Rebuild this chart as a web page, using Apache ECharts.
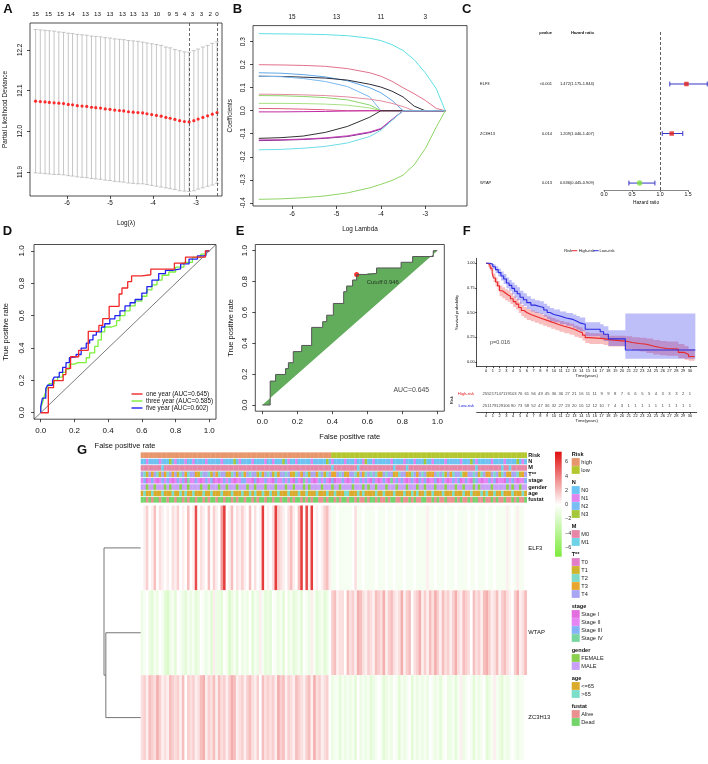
<!DOCTYPE html>
<html><head><meta charset="utf-8">
<script src="https://cdn.jsdelivr.net/npm/echarts@6.0.0/dist/echarts.min.js"></script>
<style>html,body{margin:0;padding:0;background:#fff}#c{width:708px;height:764px}</style>
</head><body><div id="c"></div><script>
const FONT = '"Liberation Sans", Arial, Helvetica, sans-serif';

// ---------------- Panel A : cross-validation curve ----------------
const lamA = [-6.73,-6.62,-6.51,-6.41,-6.30,-6.19,-6.08,-5.97,-5.87,-5.76,-5.65,-5.54,-5.43,-5.33,-5.22,-5.11,-5.00,-4.89,-4.78,-4.68,-4.57,-4.46,-4.35,-4.24,-4.14,-4.03,-3.92,-3.81,-3.70,-3.60,-3.49,-3.38,-3.27,-3.16,-3.05,-2.95,-2.84,-2.73,-2.62,-2.51];
const cvmA = [12.074,12.073,12.072,12.071,12.070,12.069,12.068,12.066,12.065,12.063,12.062,12.061,12.059,12.058,12.057,12.055,12.054,12.052,12.051,12.050,12.048,12.047,12.046,12.045,12.043,12.041,12.039,12.037,12.034,12.032,12.029,12.026,12.024,12.023,12.026,12.030,12.034,12.038,12.042,12.046];
const cvsdA = [0.176,0.176,0.176,0.176,0.176,0.175,0.175,0.175,0.175,0.175,0.175,0.175,0.175,0.175,0.175,0.175,0.175,0.175,0.175,0.175,0.175,0.175,0.175,0.174,0.174,0.174,0.174,0.174,0.173,0.173,0.172,0.172,0.171,0.171,0.172,0.172,0.173,0.173,0.174,0.174];
const lamMinA = -3.16, lam1seA = -2.51;
const topPosA = [-6.73,-6.43,-6.15,-5.90,-5.57,-5.29,-5.00,-4.71,-4.46,-4.19,-3.91,-3.62,-3.45,-3.27,-3.08,-2.87,-2.67,-2.51];
const topLabA = ['15','15','15','14','13','13','13','13','13','13','10','9','5','4','3','3','2','0'];

// ---------------- Panel B : coefficient paths ----------------
const lamB = [-6.75,-6.25,-5.75,-5.25,-4.75,-4.25,-4.0,-3.75,-3.5,-3.25,-3.0,-2.75,-2.55];
const coefB = [
 [0.335,0.334,0.333,0.331,0.326,0.315,0.305,0.287,0.262,0.222,0.165,0.095,0],
 [0.200,0.199,0.197,0.193,0.183,0.165,0.150,0.128,0.100,0.074,0.045,0.010,0],
 [0.165,0.163,0.157,0.147,0.130,0.100,0.078,0.045,0,0,0,0,0],
 [0.150,0.149,0.146,0.142,0.133,0.115,0.103,0.085,0.060,0.020,0,0,0],
 [0.150,0.148,0.140,0.127,0.105,0.060,0,0,0,0,0,0,0],
 [0.072,0.071,0.069,0.066,0.060,0.050,0.043,0.032,0.018,0,0,0,0],
 [0.066,0.065,0.062,0.057,0.047,0.025,0,0,0,0,0,0,0],
 [0.032,0.032,0.031,0.029,0.024,0.012,0,0,0,0,0,0,0],
 [0.010,0.009,0.007,0.004,0,0,0,0,0,0,0,0,0],
 [-0.005,-0.005,-0.004,-0.003,-0.001,0,0,0,0,0,0,0,0],
 [-0.120,-0.117,-0.110,-0.094,-0.068,-0.028,0,0,0,0,0,0,0],
 [-0.130,-0.128,-0.125,-0.120,-0.112,-0.095,-0.080,-0.040,0,0,0,0,0],
 [-0.127,-0.126,-0.123,-0.118,-0.109,-0.092,-0.077,-0.038,0,0,0,0,0],
 [-0.170,-0.168,-0.163,-0.155,-0.140,-0.112,-0.085,-0.042,0,0,0,0,0],
 [-0.385,-0.383,-0.378,-0.370,-0.357,-0.335,-0.320,-0.303,-0.280,-0.235,-0.165,-0.070,0]
];
const colB = ['#5FE0E5','#E0728A','#5FA8E8','#2B2B3A','#7BB8F0','#E38BA0','#8CD66A','#A8E080','#E05A80','#C02AA8','#333333','#7A2A8A','#C63FB5','#6EDDE6','#8FD466'];
const topPosB = [-6,-5,-4,-3];
const topLabB = ['15','13','11','3'];

// ---------------- Panel C : forest plot ----------------
const genesC = ['ELF3','ZC3H13','WTAP'];
const rowC = [3,2,1];
const pvalC = ['<0.001','0.014','0.013'];
const hrC = [1.472,1.209,0.636];
const hrLoC = [1.175,1.040,0.445];
const hrHiC = [1.844,1.407,0.909];

// ---------------- Panel D / E : ROC ----------------
const rocOne = [[0,0],[0.045,0],[0.045,0.155],[0.076,0.155],[0.076,0.198],[0.133,0.198],[0.133,0.236],[0.149,0.236],[0.149,0.274],[0.177,0.274],[0.177,0.346],[0.225,0.346],[0.225,0.386],[0.282,0.386],[0.282,0.503],[0.345,0.503],[0.345,0.54],[0.368,0.54],[0.368,0.582],[0.406,0.582],[0.406,0.658],[0.465,0.658],[0.465,0.734],[0.482,0.734],[0.482,0.771],[0.516,0.771],[0.516,0.81],[0.539,0.81],[0.539,0.846],[0.6,0.846],[0.6,0.853],[0.653,0.853],[0.653,0.888],[0.793,0.888],[0.793,0.925],[0.859,0.925],[0.859,0.962],[0.977,0.962],[0.977,1],[1,1]];
const rocThree = [[0,0],[0.01,0.03],[0.02,0.06],[0.03,0.1],[0.04,0.13],[0.05,0.16],[0.08,0.18],[0.1,0.2],[0.13,0.22],[0.15,0.25],[0.17,0.27],[0.2,0.3],[0.22,0.31],[0.27,0.31],[0.29,0.34],[0.32,0.37],[0.34,0.41],[0.36,0.45],[0.38,0.5],[0.42,0.53],[0.45,0.54],[0.47,0.57],[0.5,0.6],[0.53,0.63],[0.56,0.66],[0.6,0.69],[0.63,0.72],[0.66,0.76],[0.69,0.79],[0.72,0.82],[0.76,0.85],[0.8,0.87],[0.85,0.9],[0.9,0.93],[0.95,0.96],[0.98,0.98],[1,1]];
const rocFive = [[0,0],[0.01,0.04],[0.03,0.09],[0.04,0.15],[0.07,0.17],[0.08,0.2],[0.11,0.22],[0.13,0.25],[0.15,0.28],[0.17,0.31],[0.18,0.34],[0.21,0.345],[0.24,0.36],[0.27,0.4],[0.29,0.43],[0.31,0.45],[0.33,0.48],[0.36,0.5],[0.38,0.53],[0.41,0.55],[0.44,0.58],[0.47,0.6],[0.5,0.63],[0.53,0.66],[0.56,0.68],[0.6,0.7],[0.63,0.74],[0.66,0.78],[0.7,0.82],[0.74,0.86],[0.78,0.88],[0.83,0.89],[0.88,0.92],[0.93,0.95],[0.98,0.97],[1,1]];
const rocNames = ['one year (AUC=0.645)','three year (AUC=0.585)','five year (AUC=0.602)'];
const cutoffPt = [0.539,0.846];
const cutoffLabel = 'Cutoff:0.946';
const aucLabelE = 'AUC=0.645';

// ---------------- Panel F : Kaplan-Meier ----------------
const hiT = [0,0.3,0.6,0.9,1.1,1.4,1.7,2.0,2.4,2.8,3.2,3.6,4.0,4.4,4.8,5.2,5.6,6.0,6.6,7.2,7.8,8.4,9.0,9.6,10.2,10.8,11.5,12.3,13.0,13.6,14.2,14.6,15.2,17.3,18.0,20.5,21.5,22.6,23.6,24.6,25.6,26.6,28.3,29.2,29.8,30.7];
const hiS = [1.0,0.98,0.95,0.90,0.85,0.81,0.77,0.72,0.70,0.68,0.665,0.64,0.61,0.585,0.55,0.52,0.50,0.48,0.465,0.45,0.435,0.42,0.405,0.39,0.375,0.36,0.345,0.33,0.31,0.295,0.27,0.245,0.235,0.225,0.21,0.195,0.185,0.178,0.16,0.145,0.135,0.128,0.095,0.075,0.054,0.054];
const hiUp = [1.0,0.995,0.975,0.935,0.895,0.855,0.82,0.775,0.755,0.735,0.72,0.695,0.665,0.64,0.605,0.575,0.555,0.535,0.52,0.505,0.49,0.475,0.46,0.445,0.43,0.415,0.40,0.385,0.365,0.35,0.325,0.30,0.29,0.28,0.265,0.26,0.25,0.245,0.235,0.22,0.21,0.205,0.18,0.16,0.13,0.13];
const hiLo = [1.0,0.965,0.925,0.865,0.81,0.765,0.72,0.665,0.645,0.625,0.61,0.585,0.555,0.53,0.495,0.465,0.445,0.425,0.41,0.395,0.38,0.365,0.35,0.335,0.32,0.305,0.29,0.275,0.255,0.24,0.215,0.19,0.18,0.17,0.155,0.13,0.115,0.105,0.09,0.075,0.065,0.06,0.035,0.02,0.01,0.01];
const loT = [0,0.6,1.0,1.4,1.8,2.2,2.6,3.0,3.4,3.8,4.2,4.6,5.0,5.5,6.0,6.6,7.2,7.9,8.5,9.0,9.4,10.0,10.9,11.8,12.8,13.3,13.8,14.6,16.8,17.3,18.0,20.5,30.8];
const loS = [1.0,0.99,0.965,0.935,0.905,0.87,0.84,0.80,0.775,0.745,0.715,0.69,0.655,0.63,0.6,0.575,0.56,0.55,0.525,0.5,0.48,0.465,0.445,0.43,0.413,0.395,0.38,0.33,0.305,0.28,0.232,0.12,0.115];
const loUp = [1.0,1.0,0.99,0.97,0.945,0.915,0.89,0.855,0.83,0.805,0.78,0.755,0.72,0.695,0.665,0.64,0.625,0.615,0.59,0.565,0.545,0.53,0.51,0.495,0.48,0.465,0.45,0.40,0.38,0.36,0.32,0.49,0.49];
const loLo = [1.0,0.975,0.94,0.90,0.865,0.825,0.79,0.745,0.72,0.685,0.65,0.625,0.59,0.565,0.535,0.51,0.495,0.485,0.46,0.435,0.415,0.40,0.38,0.365,0.345,0.325,0.31,0.26,0.235,0.21,0.16,0.03,0.03];
const pvalF = 'p=0.016';
const riskTimes = [0,1,2,3,4,5,6,7,8,9,10,11,12,13,14,15,16,17,18,19,20,21,22,23,24,25,26,27,28,29,30];
const riskHigh = [255,217,147,119,103,76,61,56,49,45,36,36,27,21,16,11,11,9,9,8,7,6,6,5,5,4,3,3,3,2,1];
const riskLow = [251,179,129,106,90,73,58,52,47,36,32,27,23,20,16,12,12,10,7,4,3,1,1,1,1,1,1,1,1,1,1];

// ---------------- Panel G : heatmap ----------------
const riskGroupSizes = [74,76];  // high, low (columns sorted by risk)
const annoN = "0010200120 0301002100 1020010020 0120003010 2001002010 0100230100 1002001020 0030102001 0201001300 1020020100 0012001020 3001020010 0200100230 1000201002 0102003010";
const annoM = "0000000010 0000000000 0000000000 0000000000 0000000000 0000000000 0000000000 0000100000 0000100000 0000000010 0001000000 0000000000 0000000000 1000000000 1001000000";
const annoT = "4214342143 2434124324 4312442143 2441324142 3424412342 4123442431 2434214432 4124334241 3442143242 4231424413 2443124342 4133424214 3244213442 4124334241 2431442134";
const annoStage = "1201210121 2101212031 1210121201 0121210112 2110201121 1021121210 2103121012 1210201121 0121121210 2101210312 1210121021 2011201210 1212012103 2101121201 1021210112";
const annoGender = "1101101110 1011101101 1110110111 0110111011 1011011101 1101110110 1110101111 0111011011 1101110101 1011101110 1110111011 0111011101 1101101110 1011110111 1101011011";
const annoAge = "0100100010 0010010100 1000100100 0100010001 0010100100 1001000100 0100100010 0010010001 1000101000 0100100010 0010010100 1001000100 0100010010 0010100100 1000100010";
const annoFustat = "1101011011 0110110101 1011010110 1101101011 0110101101 1011011010 1101010110 0101101011 0110100101 1010010110 0100101001 1001010010 0010100101 1001001010 0100101001";
// expression codes: a=-3.0 ... g=0 ... u=7.0 (0.5 steps)
const exprELF3 = "ghjghkgihg hgihjghgkg hrgihgkgjh gmsghkgihj hgkgighsgh gisjihgikh gksgrhsghg hjkhffgfff ffgiffgfff fgfffgffgf ffgfffgfff fhffgfffgf ffgffffgff gfffgffgff ffhfgfhffg";
const exprWTAP = "efgedfegfd cefdgfedfe fdegfefdhe edgfcefdge fegdfehfde dgfefdgefd efdgfehfde fdegjkhiig kijhlkihji hkjilhjkih ilhjkgijlh jhkiljhkij hjlihkjigk ijhkljhikh jkihgjlhik";
const exprZC3H13 = "ijhkjiljhi hkjijhkgji jhiklhjikh kijhjlkhij hjkihjgkij ijhljkhjih kjihjkhlij hijgeffdfe fefdgefefd efgfdefegf dfefgdfefe fegfefdfge efdfhefgfd fefgdefhfe dfefgfeffg";
const annoNames = ['Risk','N','M','T**','stage','gender','age','fustat'];
const geneNames = ['ELF3','WTAP','ZC3H13'];
const annoPal = [
 ['#E8966B','#B5C72F'],
 ['#6AC4F2','#E084EE','#79BDF5','#A5C83B'],
 ['#E687A7','#6FD3E8'],
 ['#E27EC8','#CDB52E','#7FD9C8','#E6A62F','#A9A5F3'],
 ['#E26EDF','#E485F3','#86B3F6','#7AD6A1'],
 ['#8AD04C','#C8A0F5'],
 ['#D9AA2C','#7CDDC9'],
 ['#EA9090','#73D46C']
];
const legendGroups = [
 ['Risk',['high','low']],
 ['N',['N0','N1','N2','N3']],
 ['M',['M0','M1']],
 ['T**',['T0','T1','T2','T3','T4']],
 ['stage',['Stage I','Stage II','Stage III','Stage IV']],
 ['gender',['FEMALE','MALE']],
 ['age',['<=65','>65']],
 ['fustat',['Alive','Dead']]
];
const heatMin = -7.3, heatMax = 7.4;
const heatTicks = [6,4,2,0,-2,-4,-6];
const dendroH = [0.95, 1.0]; // merge heights: WTAP+ZC3H13, then ELF3

// ================= build =================
const clean = s => s.replace(/\s+/g,'').split('');
const riskCodes = [];
riskGroupSizes.forEach((n,g)=>{ for(let i=0;i<n;i++) riskCodes.push(g); });
const annoRows = [riskCodes,
  clean(annoN).map(Number), clean(annoM).map(Number), clean(annoT).map(Number),
  clean(annoStage).map(Number), clean(annoGender).map(Number), clean(annoAge).map(Number), clean(annoFustat).map(Number)];
const NCOL = riskCodes.length;
const annoData = [];
annoRows.forEach((row,r)=>row.forEach((c,i)=>annoData.push([i,r,c])));
const dec = ch => (ch.charCodeAt(0)-103)*0.5;
const exprRows = [clean(exprELF3).map(dec), clean(exprWTAP).map(dec), clean(exprZC3H13).map(dec)];
const heatData = [];
exprRows.forEach((row,r)=>row.forEach((v,i)=>heatData.push([i,r,v])));

function mix(a,b,t){ return 'rgb('+a.map((x,i)=>Math.round(x+(b[i]-x)*t)).join(',')+')'; }
const RED=[224,16,16], WHITE=[255,255,255], GREEN=[124,235,58];
function heatColor(v){ return v>=0 ? mix(WHITE,RED,Math.min(1,v/heatMax)) : mix(WHITE,GREEN,Math.min(1,v/heatMin)); }

function vAxis(o){
  return {
    type:'value', gridIndex:o.grid, position:o.pos, min:o.min, max:o.max, inverse:!!o.inverse, show:o.show!==false,
    axisLine:{show:!!o.line, onZero:false, lineStyle:{color:o.lc||'#000', width:0.7}},
    axisTick:{show:o.tick!==false, length:o.tl||3, customValues:o.ticks, lineStyle:{color:o.lc||'#000', width:0.7}},
    axisLabel:{show:o.label!==false, customValues:o.ticks, formatter:o.fmt, fontSize:o.fs, fontFamily:FONT, color:'#111', rotate:o.rot||0, margin:o.margin||4, hideOverlap:false, fontWeight:o.bold?'bold':'normal'},
    splitLine:{show:false},
    name:o.name||'', nameLocation:'middle', nameGap:o.gap||20, nameRotate:o.nrot||0,
    nameTextStyle:{fontSize:o.nfs||o.fs, fontFamily:FONT, color:'#111'}
  };
}
const f1 = v=>v.toFixed(1), f2 = v=>v.toFixed(2), fs0 = v=>String(Math.round(v));
const pick = (pos,lab)=> v=>{ const i=pos.findIndex(p=>Math.abs(p-v)<1e-6); return i<0?'':lab[i]; };

const grids = [
 {left:30, top:23, width:192, height:173},
 {left:253, top:25.6, width:214, height:180.4},
 {left:604, top:30, width:84, height:160},
 {left:34, top:244.5, width:182, height:174.7},
 {left:255.3, top:244.5, width:189, height:166.7},
 {left:476.7, top:258.3, width:220, height:108.4},
 {left:476.7, top:388, width:220, height:24.3},
 {left:140.7, top:452, width:386, height:51},
 {left:140.7, top:505.5, width:386, height:254.5},
 {left:104, top:505.5, width:36.7, height:254.5}
];
const boxed = [0,1,3,4];
const kmTicks = riskTimes;

const xAxis = [
 vAxis({grid:0,min:-6.86,max:-2.395,ticks:[-6,-5,-4,-3],fmt:fs0,fs:6.4,margin:4,name:'Log(\u03BB)',gap:24}),
 vAxis({grid:0,pos:'top',min:-6.86,max:-2.395,ticks:topPosA,fmt:pick(topPosA,topLabA),fs:6.2,margin:6,tick:false}),
 vAxis({grid:1,min:-6.88,max:-2.06,ticks:[-6,-5,-4,-3],fmt:fs0,fs:6.4,margin:5,name:'Log Lambda',gap:20.5}),
 vAxis({grid:1,pos:'top',min:-6.88,max:-2.06,ticks:topPosB,fmt:pick(topPosB,topLabB),fs:6.4,margin:5.4,tick:false}),
 vAxis({grid:2,min:0,max:1.5,ticks:[0,0.5,1,1.5],fmt:f1,fs:5.2,margin:2.3,tl:2,line:true,lc:'#555',name:'Hazard ratio',gap:10.4,nfs:4.8}),
 vAxis({grid:3,min:-0.04,max:1.04,ticks:[0,0.2,0.4,0.6,0.8,1],fmt:f1,fs:8,margin:7.5,name:'False positive rate',gap:23,nfs:7.5}),
 vAxis({grid:4,min:-0.04,max:1.04,ticks:[0,0.2,0.4,0.6,0.8,1],fmt:f1,fs:8,margin:6.5,name:'False positive rate',gap:21.5,nfs:7.5}),
 vAxis({grid:5,min:-1.37,max:31,ticks:kmTicks,fmt:fs0,fs:4,margin:2,tl:1.5,line:true,name:'Time(years)',gap:5.5,nfs:4.2}),
 vAxis({grid:6,min:-1.37,max:31,ticks:kmTicks,fmt:fs0,fs:4,margin:1.8,tl:1.5,line:true,name:'Time(years)',gap:5.8,nfs:4.2}),
 vAxis({grid:7,min:0,max:NCOL,show:false}),
 vAxis({grid:8,min:0,max:NCOL,show:false}),
 vAxis({grid:9,min:0,max:1,inverse:true,show:false})
];
const yAxis = [
 vAxis({grid:0,min:11.841,max:12.266,ticks:[11.9,12.0,12.1,12.2],fmt:f1,fs:6.4,rot:90,margin:7,name:'Partial Likelihood Deviance',nrot:90,gap:21.5}),
 vAxis({grid:1,min:-0.414,max:0.37,ticks:[-0.4,-0.3,-0.2,-0.1,0,0.1,0.2,0.3],fmt:f1,fs:6.4,rot:90,margin:6.5,name:'Coefficients',nrot:90,gap:19.8}),
 vAxis({grid:2,min:0.86,max:4.09,show:false}),
 vAxis({grid:3,min:-0.04,max:1.04,ticks:[0,0.2,0.4,0.6,0.8,1],fmt:f1,fs:8,rot:90,margin:8.3,name:'True positive rate',nrot:90,gap:23.6,nfs:7.5}),
 vAxis({grid:4,min:-0.04,max:1.04,ticks:[0,0.2,0.4,0.6,0.8,1],fmt:f1,fs:8,rot:90,margin:6.3,name:'True positive rate',nrot:90,gap:20,nfs:7.5}),
 vAxis({grid:5,min:-0.05,max:1.05,ticks:[0,0.25,0.5,0.75,1],fmt:f2,fs:4,margin:2,tl:1.5,line:true,name:'Survival probability',nrot:90,gap:18,nfs:4.2}),
 {type:'category', gridIndex:6, data:['Low-risk','High-risk'], axisLine:{show:false}, axisTick:{show:false},
  axisLabel:{fontSize:4.2, fontFamily:FONT, margin:2.5, color:v=>v==='High-risk'?'#E41A1C':'#2020E0'},
  name:'Risk', nameLocation:'middle', nameRotate:90, nameGap:16.7, nameTextStyle:{fontSize:4.2,fontFamily:FONT,color:'#111'}},
 vAxis({grid:7,min:0,max:8,inverse:true,pos:'right',ticks:[0.5,1.5,2.5,3.5,4.5,5.5,6.5,7.5],fmt:v=>annoNames[Math.floor(v)],fs:5.6,bold:true,margin:1.6,tick:false}),
 vAxis({grid:8,min:0,max:3,inverse:true,pos:'right',ticks:[0.5,1.5,2.5],fmt:v=>geneNames[Math.floor(v)],fs:5.9,margin:1.6,tick:false}),
 vAxis({grid:9,min:0,max:3,inverse:true,show:false})
];

const series = [];
// A
series.push({type:'custom', xAxisIndex:0, yAxisIndex:0, encode:{x:0,y:[1,2]},
  data: lamA.map((x,i)=>[x, cvmA[i]-cvsdA[i], cvmA[i]+cvsdA[i]]),
  renderItem:(p,api)=>{ const x=api.value(0); const a=api.coord([x,api.value(1)]), b=api.coord([x,api.value(2)]); const w=2, st={stroke:'#B8B8B8',lineWidth:0.8};
    return {type:'group',children:[
      {type:'line',shape:{x1:a[0],y1:a[1],x2:b[0],y2:b[1]},style:st},
      {type:'line',shape:{x1:a[0]-w,y1:a[1],x2:a[0]+w,y2:a[1]},style:st},
      {type:'line',shape:{x1:b[0]-w,y1:b[1],x2:b[0]+w,y2:b[1]},style:st}]}; }});
series.push({type:'scatter', xAxisIndex:0, yAxisIndex:0, symbolSize:3.2, itemStyle:{color:'#FF0000'},
  data: lamA.map((x,i)=>[x,cvmA[i]]),
  markLine:{symbol:'none', silent:true, label:{show:false}, lineStyle:{type:[3,2],color:'#444',width:0.8}, data:[{xAxis:lamMinA},{xAxis:lam1seA}]}});
// B
coefB.forEach((c,k)=>series.push({type:'line', xAxisIndex:2, yAxisIndex:1, showSymbol:false, symbol:'none',
  lineStyle:{color:colB[k], width:1}, data: lamB.map((x,i)=>[x,c[i]])}));
// C
series.push({type:'custom', xAxisIndex:4, yAxisIndex:2, encode:{x:[0,1],y:2}, clip:false,
  data: genesC.map((g,i)=>[hrLoC[i],hrHiC[i],rowC[i]]),
  renderItem:(p,api)=>{ const a=api.coord([api.value(0),api.value(2)]), b=api.coord([api.value(1),api.value(2)]); const h=2.4, st={stroke:'#3535C8',lineWidth:1};
    return {type:'group',children:[
      {type:'line',shape:{x1:a[0],y1:a[1],x2:b[0],y2:b[1]},style:st},
      {type:'line',shape:{x1:a[0],y1:a[1]-h,x2:a[0],y2:a[1]+h},style:st},
      {type:'line',shape:{x1:b[0],y1:b[1]-h,x2:b[0],y2:b[1]+h},style:st}]}; }});
series.push({type:'scatter', xAxisIndex:4, yAxisIndex:2, clip:false,
  data: genesC.map((g,i)=>({value:[hrC[i],rowC[i]], symbol: hrC[i]>1?'rect':'circle', symbolSize: hrC[i]>1?4.5:5.5,
     itemStyle:{color: hrC[i]>1?'#E0201B':'#7CE03C'}})),
  markLine:{symbol:'none', silent:true, label:{show:false}, lineStyle:{type:[3,2],color:'#333',width:0.8}, data:[{xAxis:1}]}});
// D
series.push({type:'line', xAxisIndex:5, yAxisIndex:3, showSymbol:false, symbol:'none', lineStyle:{color:'#222',width:0.6}, data:[[-0.04,-0.04],[1.04,1.04]]});
series.push({type:'line', name:rocNames[1], xAxisIndex:5, yAxisIndex:3, showSymbol:false, symbol:'none', step:'start', lineStyle:{color:'#7CF03C',width:1.3}, itemStyle:{color:'#7CF03C'}, data:rocThree});
series.push({type:'line', name:rocNames[2], xAxisIndex:5, yAxisIndex:3, showSymbol:false, symbol:'none', step:'start', lineStyle:{color:'#2020F0',width:1.3}, itemStyle:{color:'#2020F0'}, data:rocFive});
series.push({type:'line', name:rocNames[0], xAxisIndex:5, yAxisIndex:3, showSymbol:false, symbol:'none', lineStyle:{color:'#F02828',width:1.3}, itemStyle:{color:'#F02828'}, data:rocOne});
// E
series.push({type:'custom', xAxisIndex:6, yAxisIndex:4, data:[[0,0]], encode:{x:0,y:1},
  renderItem:(p,api)=>({type:'polygon', shape:{points: rocOne.map(pt=>api.coord(pt))}, style:{fill:'#62AD5C'}})});
series.push({type:'line', xAxisIndex:6, yAxisIndex:4, showSymbol:false, symbol:'none', lineStyle:{color:'#555',width:1}, data:rocOne});
series.push({type:'scatter', xAxisIndex:6, yAxisIndex:4, symbolSize:5, itemStyle:{color:'#FF0000'}, data:[cutoffPt],
  label:{show:true, formatter:cutoffLabel, position:[12.6,10.3], align:'left', verticalAlign:'middle', fontSize:5.9, fontFamily:FONT, color:'#111'}});
series.push({type:'scatter', xAxisIndex:6, yAxisIndex:4, symbolSize:0, data:[[0.749,0.097]],
  label:{show:true, formatter:aucLabelE, position:'right', distance:0, fontSize:6.9, fontFamily:FONT, color:'#111'}});
// F bands + curves
function band(ts,up,lo,color){
  return {type:'custom', xAxisIndex:7, yAxisIndex:5, data:[[0,0]], encode:{x:0,y:1}, silent:true,
    renderItem:(p,api)=>{ const pts=[]; const n=ts.length;
      for(let i=0;i<n;i++){ pts.push(api.coord([ts[i],up[i]])); if(i<n-1) pts.push(api.coord([ts[i+1],up[i]])); }
      for(let i=n-1;i>=0;i--){ if(i<n-1) pts.push(api.coord([ts[i+1],lo[i]])); pts.push(api.coord([ts[i],lo[i]])); }
      return {type:'polygon', shape:{points:pts}, style:{fill:color}}; }};
}
series.push(band(hiT,hiUp,hiLo,'rgba(235,40,40,0.30)'));
series.push(band(loT,loUp,loLo,'rgba(40,40,235,0.30)'));
series.push({type:'line', name:'High-risk', xAxisIndex:7, yAxisIndex:5, step:'end', showSymbol:false, symbol:'none', lineStyle:{color:'#E8292B',width:1.1}, data:hiT.map((t,i)=>[t,hiS[i]])});
series.push({type:'line', name:'Low-risk', xAxisIndex:7, yAxisIndex:5, step:'end', showSymbol:false, symbol:'none', lineStyle:{color:'#2A2AE0',width:1.1}, data:loT.map((t,i)=>[t,loS[i]])});
series.push({type:'scatter', xAxisIndex:7, yAxisIndex:5, symbolSize:0, data:[[0.59,0.198]],
  label:{show:true, formatter:pvalF, position:'right', distance:0, fontSize:5.5, fontFamily:FONT, color:'#111'}});
// F risk table
[['High-risk',riskHigh],['Low-risk',riskLow]].forEach(([grp,arr])=>series.push({type:'scatter', xAxisIndex:8, yAxisIndex:6, symbolSize:0,
  data: riskTimes.map((t,i)=>[t,grp,arr[i]]),
  label:{show:true, position:'inside', formatter:p=>String(p.value[2]), fontSize:4.2, fontFamily:FONT, color:'#111'}}));
// G annotations
series.push({type:'custom', xAxisIndex:9, yAxisIndex:7, encode:{x:0,y:1}, progressive:0, data:annoData,
  renderItem:(p,api)=>{ const c=api.value(0), r=api.value(1); const a=api.coord([c,r]), b=api.coord([c+1,r+1]);
    return {type:'rect', shape:{x:a[0], y:a[1]+0.4, width:b[0]-a[0]+0.3, height:b[1]-a[1]-0.8}, style:{fill:annoPal[r][api.value(2)]}}; }});
// G main heatmap
series.push({type:'custom', xAxisIndex:10, yAxisIndex:8, encode:{x:0,y:1}, progressive:0, data:heatData,
  renderItem:(p,api)=>{ const c=api.value(0), r=api.value(1); const a=api.coord([c,r]), b=api.coord([c+1,r+1]);
    return {type:'rect', shape:{x:a[0], y:a[1], width:b[0]-a[0]+0.35, height:b[1]-a[1]}, style:{fill:heatColor(api.value(2))}}; }});
// G dendrogram
series.push({type:'line', xAxisIndex:11, yAxisIndex:9, showSymbol:false, symbol:'none', lineStyle:{color:'#666',width:0.9},
  data:[[0,0.5],[dendroH[1],0.5],[dendroH[1],2.0],[dendroH[0],2.0]]});
series.push({type:'line', xAxisIndex:11, yAxisIndex:9, showSymbol:false, symbol:'none', lineStyle:{color:'#666',width:0.9},
  data:[[0,1.5],[dendroH[0],1.5],[dendroH[0],2.5],[0,2.5]]});

const option = {
  animation:false,
  grid: grids.map((g,i)=>Object.assign({show:boxed.includes(i), borderColor:'#222', borderWidth:0.8, backgroundColor:'transparent'}, g)),
  xAxis, yAxis, series,
  legend:[{data:rocNames, orient:'vertical', left:131.5, top:391, padding:0, itemGap:1, itemWidth:11, itemHeight:1.4, icon:'rect',
    textStyle:{fontSize:6.3, fontFamily:FONT, color:'#111', padding:[0,0,0,-1.5]}, selectedMode:false}]
};
const chart = echarts.init(document.getElementById('c'), null, {renderer:'canvas', width:708, height:764});
chart.setOption(option);

// ---------- graphics (text, legends) ----------
const g = [];
const txt = (x,y,s,o={})=>g.push({type:'text', x, y, silent:true, style:Object.assign({text:s, font:(o.bold?'bold ':'')+(o.fs||6)+'px '+FONT, fill:o.color||'#111', textAlign:o.align||'left', textVerticalAlign:'middle'}, o.style||{})});
[['A',8,9.7],['B',237.5,9.2],['C',466.7,9.2],['D',7.5,231.7],['E',240,231.7],['F',466.7,231.7],['G',82,450]].forEach(([s,x,y])=>txt(x,y,s,{bold:true,fs:13,align:'center'}));
// forest table
txt(552,33.3,'pvalue',{fs:4,bold:true,align:'right'});
txt(594,33.3,'Hazard ratio',{fs:4,bold:true,align:'right'});
genesC.forEach((gn,i)=>{ const y=chart.convertToPixel({gridIndex:2},[0,rowC[i]])[1];
  txt(480,y,gn,{fs:4});
  txt(552,y,pvalC[i],{fs:4,align:'right'});
  txt(594,y,hrC[i].toFixed(3)+'('+hrLoC[i].toFixed(3)+'-'+hrHiC[i].toFixed(3)+')',{fs:4,align:'right'}); });
// KM legend
txt(564.3,250.7,'Risk',{fs:4});
g.push({type:'line',silent:true,shape:{x1:571.7,y1:250.7,x2:577.3,y2:250.7},style:{stroke:'#E8292B',lineWidth:1}});
txt(578.7,250.7,'High-risk',{fs:4});
g.push({type:'line',silent:true,shape:{x1:593.3,y1:250.7,x2:598.7,y2:250.7},style:{stroke:'#2A2AE0',lineWidth:1}});
txt(599.6,250.7,'Low-risk',{fs:4});
// heatmap colour bar
g.push({type:'rect',silent:true,shape:{x:555,y:451.7,width:6.7,height:105},style:{fill:new echarts.graphic.LinearGradient(0,0,0,1,[
  {offset:0,color:mix(WHITE,RED,1)},{offset:heatMax/(heatMax-heatMin),color:'#FFFFFF'},{offset:1,color:mix(WHITE,GREEN,1)}])}});
heatTicks.forEach(v=>txt(565,451.7+(heatMax-v)/(heatMax-heatMin)*105,(v<0?'\u2212':'')+Math.abs(v),{fs:5.5,color:'#333'}));
// discrete legend
let ly = 454;
legendGroups.forEach(([title,items],gi)=>{
  txt(571.7,ly,title,{fs:5.6,bold:true}); ly+=8;
  items.forEach((it,k)=>{ g.push({type:'rect',silent:true,shape:{x:571.7,y:ly-3.9,width:8,height:7.8},style:{fill:annoPal[gi][k]}});
    txt(581.3,ly,it,{fs:5.6,color:'#222'}); ly+=8; });
  ly+=4;
});
chart.setOption({graphic:g});
</script></body></html>
